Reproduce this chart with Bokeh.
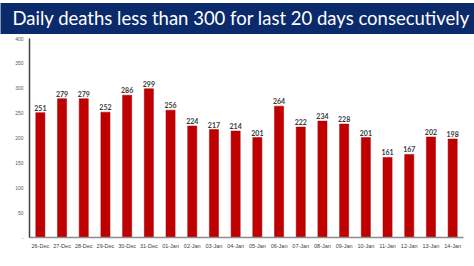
from bokeh.plotting import figure
from bokeh.models import ColumnDataSource, FixedTicker, Range1d, FactorRange
from bokeh.core.properties import value
from bokeh.embed import file_html
from bokeh.resources import INLINE

title_text = "Daily deaths less than 300 for last 20 days consecutively"
dates = ["26-Dec", "27-Dec", "28-Dec", "29-Dec", "30-Dec", "31-Dec",
         "01-Jan", "02-Jan", "03-Jan", "04-Jan", "05-Jan", "06-Jan",
         "07-Jan", "08-Jan", "09-Jan", "10-Jan", "11-Jan", "12-Jan",
         "13-Jan", "14-Jan"]
deaths = [251, 279, 279, 252, 286, 299, 256, 224, 217, 214,
          201, 264, 222, 234, 228, 201, 161, 167, 202, 198]
y_ticks = [0, 50, 100, 150, 200, 250, 300, 350, 400]
y_tick_labels = ["-", "50", "100", "150", "200", "250", "300", "350", "400"]

NAVY = "#0b2a6c"
RED = "#c00000"

W, H = 474, 266

src = ColumnDataSource(dict(date=dates, deaths=deaths,
                            lbl=[str(v) for v in deaths]))
p = figure(width=W, height=H, x_range=FactorRange(*dates, range_padding=0),
           y_range=Range1d(0, 400), output_backend="svg", toolbar_location=None,
           min_border_left=29, min_border_right=11, min_border_top=37,
           min_border_bottom=29, outline_line_color=None)
p.grid.visible = False

# Title banner
p.title.text = title_text
p.title.align = "left"
p.title.offset = -29
p.title.standoff = 5
p.title.vertical_align = "top"
p.title.text_color = "white"
p.title.text_font = "Lato"
p.title.text_font_style = "normal"
p.title.text_font_size = "18.5px"
p.title.background_fill_color = NAVY
p.title.padding = dict(left=12, right=20, top=4, bottom=5)

p.vbar(x="date", top="deaths", width=0.42, source=src,
       fill_color=RED, line_color="#a00000", line_width=0.5)
p.text(x="date", y="deaths", text="lbl", source=src, y_offset=-2,
       text_align="center", text_baseline="bottom",
       text_font=value("Lato"), text_font_style="bold",
       text_font_size="7px", text_color="#3a3a3a")

p.yaxis.ticker = FixedTicker(ticks=y_ticks)
p.yaxis.major_label_overrides = {t_: l for t_, l in zip(y_ticks, y_tick_labels)}
p.yaxis.axis_line_color = "#404040"
p.yaxis.axis_line_width = 1.5
p.yaxis.major_tick_line_color = None
p.yaxis.minor_tick_line_color = None
p.yaxis.major_tick_out = 0
p.yaxis.minor_tick_out = 0
p.yaxis.major_label_text_font_size = "5px"
p.yaxis.major_label_text_color = "#595959"
p.yaxis.major_label_standoff = 6

p.xaxis.axis_line_color = "#8c8c8c"
p.xaxis.axis_line_width = 1.5
p.xaxis.major_tick_line_color = None
p.xaxis.major_tick_out = 0
p.xaxis.major_label_text_font_size = "5.5px"
p.xaxis.major_label_text_color = "#404040"
p.xaxis.major_label_standoff = 5

open("out.html", "w").write(file_html(p, INLINE))
